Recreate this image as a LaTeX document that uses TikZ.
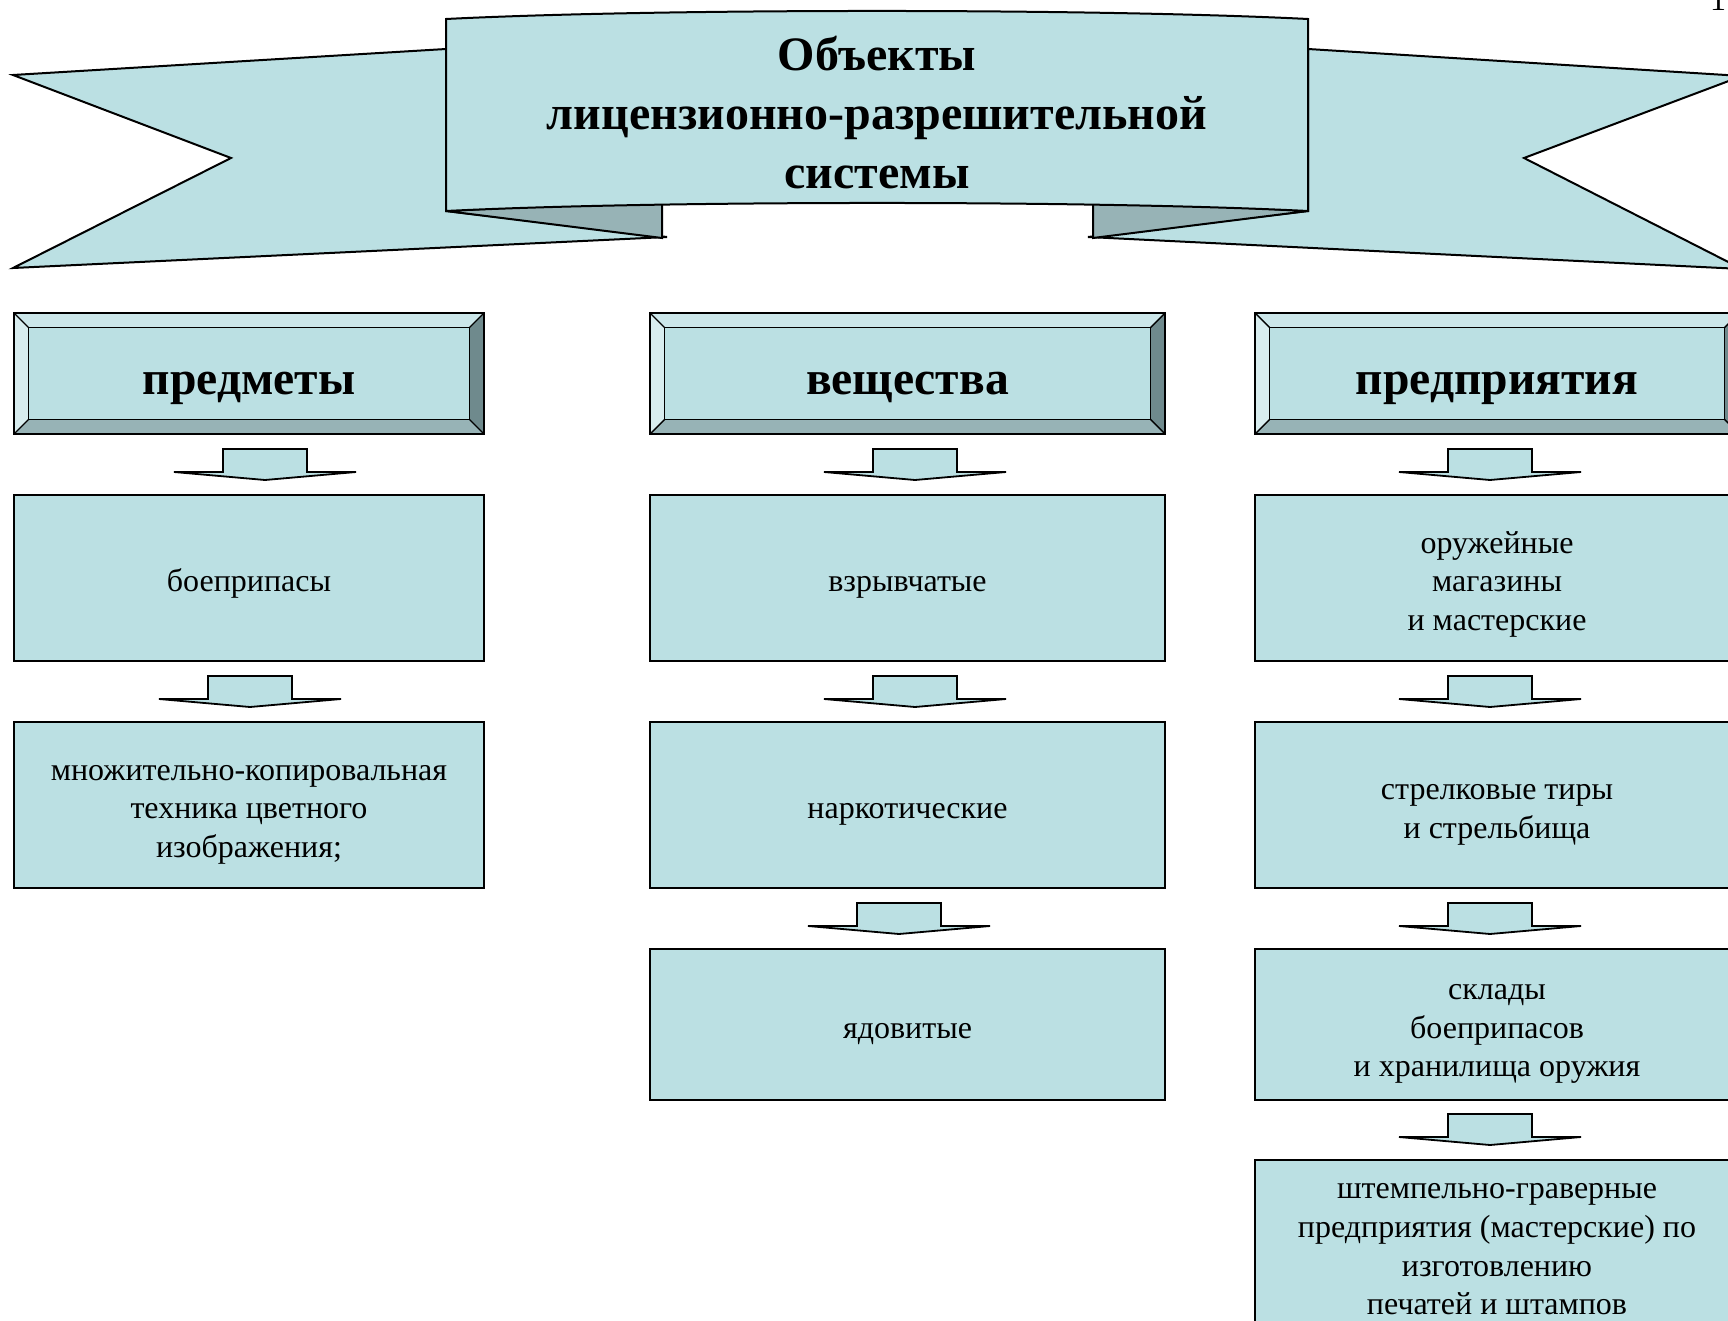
\documentclass[tikz,border=0pt]{standalone}
\usepackage{fontspec}
\setmainfont{Liberation Serif}
\usetikzlibrary{calc}
\definecolor{fillc}{HTML}{BBE0E3}
\definecolor{bevtop}{HTML}{CCE7EA}
\definecolor{bevleft}{HTML}{D8EDEF}
\definecolor{bevright}{HTML}{6F8A8D}
\definecolor{bevbot}{HTML}{97B3B6}
\definecolor{foldc}{HTML}{97B3B6}
\newcommand\bodytop{\rule{0pt}{18.5pt}}
\newcommand\bodybot{\rule[-4.8pt]{0pt}{4.8pt}}
\newcommand\headtop{\rule{0pt}{27.5pt}}
\newcommand\headbot{\rule[-7pt]{0pt}{7pt}}
\newcommand\bevelbox[1]{%
  \fill[bevtop] (#1.north west) -- (#1.north east) -- ($(#1.north east)+(-15,15)$) -- ($(#1.north west)+(15,15)$) -- cycle;
  \fill[bevleft] (#1.north west) -- ($(#1.north west)+(15,15)$) -- ($(#1.south west)+(15,-15)$) -- (#1.south west) -- cycle;
  \fill[bevright] (#1.north east) -- (#1.south east) -- ($(#1.south east)+(-15,-15)$) -- ($(#1.north east)+(-15,15)$) -- cycle;
  \fill[bevbot] (#1.south west) -- (#1.south east) -- ($(#1.south east)+(-15,-15)$) -- ($(#1.south west)+(15,-15)$) -- cycle;
  \draw[thinline] ($(#1.north west)+(15,15)$) rectangle ($(#1.south east)+(-15,-15)$);
  \draw[thinline] (#1.north west) -- ($(#1.north west)+(15,15)$);
  \draw[thinline] (#1.north east) -- ($(#1.north east)+(-15,15)$);
  \draw[thinline] (#1.south west) -- ($(#1.south west)+(15,-15)$);
  \draw[thinline] (#1.south east) -- ($(#1.south east)+(-15,-15)$);
  \draw[outline] (#1.north west) rectangle (#1.south east);
}
\begin{document}
\begin{tikzpicture}[x=0.5pt,y=-0.5pt,
  outline/.style={draw=black,line width=1pt,line join=miter},
  thinline/.style={draw=black,line width=0.7pt},
  box/.style={outline,fill=fillc,inner sep=0pt,align=center,font=\fontsize{16}{19.3}\selectfont},
  headbox/.style={fill=fillc,inner sep=0pt,minimum height=60.5pt,font=\bfseries\fontsize{23.8}{28}\selectfont},
  titletext/.style={align=center,font=\bfseries\fontsize{24}{29.5}\selectfont},
  wing/.style={outline,fill=fillc},
  fold/.style={outline,fill=foldc},
  downarrow/.pic={\draw[outline,fill=fillc,line width=0.9pt] (-42,0) -- (42,0) -- (42,23) -- (91,23) -- (0,31) -- (-91,23) -- (-42,23) -- cycle;}
]
\useasboundingbox (0,0) rectangle (1728,1321);
\clip (0,0) rectangle (1728,1321);
\fill[white] (0,0) rectangle (1728,1321);

% banner wings
\draw[wing] (13,75) -- (446,49) -- (446,211) -- (667,237) -- (13,268) -- (231,158) -- cycle;
\draw[wing] (1742,76) -- (1308,49) -- (1308,211) -- (1088,237) -- (1742,269) -- (1524,158) -- cycle;
% folds
\draw[fold] (446,211) -- (662,200) -- (662,238) -- cycle;
\draw[fold] (1308,211) -- (1093,200) -- (1093,238) -- cycle;
% central banner
\draw[wing] (446,19) .. controls (661,8.3) and (1093,8.3) .. (1308,19) -- (1308,211) .. controls (1093,200.3) and (661,200.3) .. (446,211) -- cycle;
\node[titletext] (title) at (877,112.5) {Объекты\\лицензионно-разрешительной\\системы};

\node[anchor=base,font=\fontsize{16}{19.3}\selectfont] (pnum) at (1718,11) {1};

% headers
\node[headbox,minimum width=235pt] (h1) at (249,373.5) {\headtop предметы\headbot};
\node[headbox,minimum width=257.5pt] (h2) at (907.5,373.5) {\headtop вещества\headbot};
\node[headbox,minimum width=242pt] (h3) at (1497,373.5) {\headtop предприятия\headbot};
\bevelbox{h1}
\bevelbox{h2}
\bevelbox{h3}

% boxes column 1
\node[box,minimum width=235pt,minimum height=83pt] (a1) at (249,578) {\bodytop боеприпасы\bodybot};
\node[box,minimum width=235pt,minimum height=83pt] (a2) at (249,805) {\bodytop множительно-копировальная\\техника цветного\\изображения;\bodybot};
% column 2
\node[box,minimum width=257.5pt,minimum height=83pt] (b1) at (907.5,578) {\bodytop взрывчатые\bodybot};
\node[box,minimum width=257.5pt,minimum height=83pt] (b2) at (907.5,805) {\bodytop наркотические\bodybot};
\node[box,minimum width=257.5pt,minimum height=75.5pt] (b3) at (907.5,1024.5) {\bodytop ядовитые\bodybot};
% column 3
\node[box,minimum width=242pt,minimum height=83pt] (c1) at (1497,578) {\bodytop оружейные\\магазины\\и мастерские\bodybot};
\node[box,minimum width=242pt,minimum height=83pt] (c2) at (1497,805) {\bodytop стрелковые тиры\\и стрельбища\bodybot};
\node[box,minimum width=242pt,minimum height=75.5pt] (c3) at (1497,1024.5) {\bodytop склады\\боеприпасов\\и хранилища оружия\bodybot};
\node[box,minimum width=242pt,minimum height=83pt] (c4) at (1497,1243) {\bodytop штемпельно-граверные\\предприятия (мастерские) по\\изготовлению\\печатей и штампов\bodybot};

% block arrows
\pic at (265,449) {downarrow};
\pic at (250,676) {downarrow};
\pic at (915,449) {downarrow};
\pic at (915,676) {downarrow};
\pic at (899,903) {downarrow};
\pic at (1490,449) {downarrow};
\pic at (1490,676) {downarrow};
\pic at (1490,903) {downarrow};
\pic at (1490,1114) {downarrow};
\end{tikzpicture}
\end{document}
